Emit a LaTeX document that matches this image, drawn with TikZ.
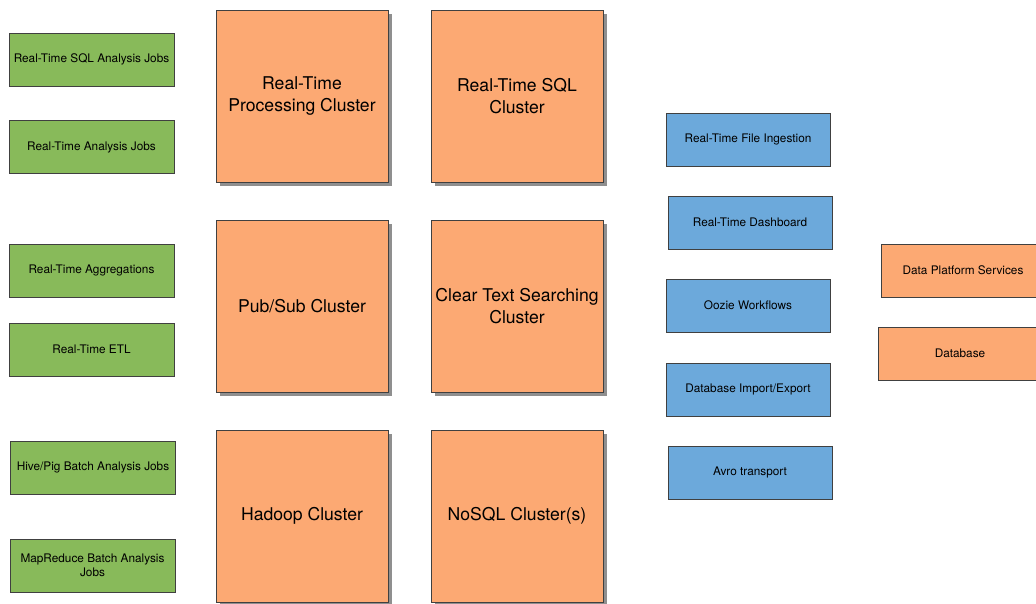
\documentclass[tikz,border=0pt]{standalone}
\usepackage{fontspec}
\setmainfont{TeX Gyre Heros}
\usepackage {tikz}
\usetikzlibrary{shadows}
\definecolor{jobgreen}{RGB}{136,186,90}
\definecolor{clusterorange}{RGB}{252,169,115}
\definecolor{toolblue}{RGB}{108,169,219}
\tikzset{
    box/.style = {rectangle,draw=black!75,line width=0.9pt,align=center,inner sep=0pt},
    small text/.style = {font=\fontsize{11.8}{13.5}\selectfont},
    job/.style = {box,small text,fill=jobgreen,minimum width=165pt,minimum height=53pt},
    tool/.style = {box,small text,fill=toolblue,minimum width=164pt,minimum height=53pt},
    service/.style = {box,small text,fill=clusterorange,minimum width=164pt,minimum height=53pt},
    cluster/.style = {box,fill=clusterorange,minimum width=172pt,minimum height=172pt,font=\fontsize{17.6}{21.5}\selectfont,
        drop shadow={shadow xshift=4pt,shadow yshift=-4pt,fill=black!55,opacity=0.8}}}
\begin{document}
\begin{tikzpicture}[x=1pt,y=-1pt]
        \useasboundingbox[fill=white] (0,0) rectangle (1036,604);
        % jobs
        \node[job] (sqljobs) at (91.5,59.5) {Real-Time SQL Analysis Jobs};
        \node[job] (rtjobs) at (91.5,147) {Real-Time Analysis Jobs};
        \node[job] (aggr) at (91.5,270.5) {Real-Time Aggregations};
        \node[job] (etl) at (91.5,349.5) {Real-Time ETL};
        \node[job] (hivepig) at (93,467.5) {Hive/Pig Batch Analysis Jobs};
        \node[job] (mapred) at (92.5,565.5) {MapReduce Batch Analysis\\Jobs};
        % clusters
        \node[cluster] (proc) at (302,96) {Real-Time\\Processing Cluster};
        \node[cluster] (sql) at (517,96) {Real-Time SQL\\Cluster};
        \node[cluster] (pubsub) at (302,306) {Pub/Sub Cluster};
        \node[cluster] (search) at (517,306) {Clear Text Searching\\Cluster};
        \node[cluster] (hadoop) at (302,516) {Hadoop Cluster};
        \node[cluster] (nosql) at (517,516) {NoSQL Cluster(s)};
        % tools
        \node[tool] (ingest) at (748,139.5) {Real-Time File Ingestion};
        \node[tool] (dash) at (750,222.5) {Real-Time Dashboard};
        \node[tool] (oozie) at (748,305.5) {Oozie Workflows};
        \node[tool] (dbio) at (748,389.5) {Database Import/Export};
        \node[tool] (avro) at (750,472.5) {Avro transport};
        % services
        \node[service] (platform) at (963,270.5) {Data Platform Services};
        \node[service] (db) at (960,353.5) {Database};
    \end{tikzpicture}
\end{document}
